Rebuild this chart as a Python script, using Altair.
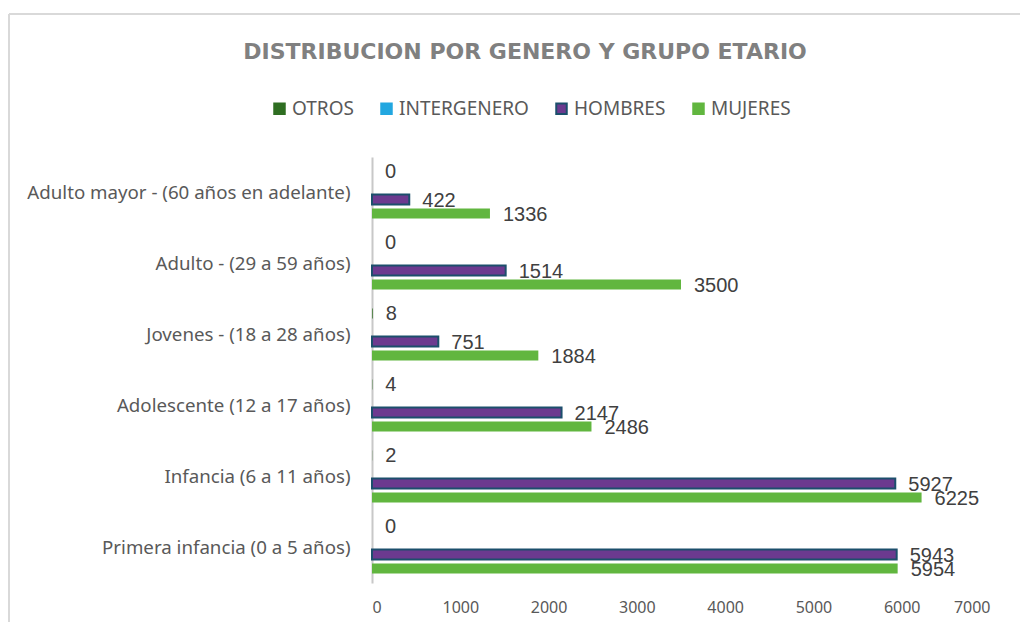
import altair as alt
import pandas as pd

categories = [
    "Adulto mayor - (60 años en adelante)",
    "Adulto - (29 a 59 años)",
    "Jovenes - (18 a 28 años)",
    "Adolescente (12 a 17 años)",
    "Infancia (6 a 11 años)",
    "Primera infancia (0 a 5 años)",
]
series_order = ["OTROS", "INTERGENERO", "HOMBRES", "MUJERES"]
otros = [0, 0, 8, 4, 2, 0]
intergenero = [0, 0, 0, 0, 0, 0]
hombres = [422, 1514, 751, 2147, 5927, 5943]
mujeres = [1336, 3500, 1884, 2486, 6225, 5954]
x_ticks = [0, 1000, 2000, 3000, 4000, 5000, 6000, 7000]

fill_colors = ["#2f6e22", "#22a7e0", "#6c3a8f", "#61b63f"]
stroke_colors = ["#2f6e22", "#22a7e0", "#1c4f6c", "#61b63f"]

rows = []
for name, vals in zip(series_order, [otros, intergenero, hombres, mujeres]):
    for c, v in zip(categories, vals):
        rows.append({"grupo": c, "serie": name, "valor": v})
df = pd.DataFrame(rows)

W, H = 618, 426

y_enc = alt.Y(
    "grupo:N",
    sort=categories,
    title=None,
    scale=alt.Scale(paddingInner=0.21, paddingOuter=0.105),
    axis=alt.Axis(
        labelFont="Noto Sans", labelFontSize=18.7, labelColor="#595959",
        labelPadding=22, ticks=False, domainColor="#c8c8c8", domainWidth=2,
        labelLimit=400,
    ),
)
yoff_enc = alt.YOffset(
    "serie:N", sort=series_order,
    scale=alt.Scale(domain=series_order, paddingInner=0.29, paddingOuter=0.14),
)
x_enc = alt.X(
    "valor:Q",
    title=None,
    scale=alt.Scale(domain=[0, 7000], nice=False),
    axis=alt.Axis(
        values=x_ticks, format="d", grid=False, domain=False, ticks=False,
        labelFont="Noto Sans", labelFontSize=16, labelColor="#595959",
        labelPadding=16,
    ),
)

base = alt.Chart(df)

bars = base.mark_bar().encode(
    y=y_enc,
    yOffset=yoff_enc,
    x=x_enc,
    color=alt.Color(
        "serie:N",
        sort=series_order,
        scale=alt.Scale(domain=series_order, range=fill_colors),
        title=None,
        legend=alt.Legend(
            orient="none", direction="horizontal", legendX=-102, legendY=-58,
            symbolType="square", symbolSize=110, symbolStrokeWidth=2,
            labelFont="Noto Sans", labelFontSize=19, labelColor="#595959",
            columnPadding=23, labelOffset=3,
        ),
    ),
    stroke=alt.Stroke(
        "serie:N",
        sort=series_order,
        scale=alt.Scale(domain=series_order, range=stroke_colors),
        title=None,
    ),
    strokeWidth=alt.condition(
        alt.datum.serie == "HOMBRES", alt.value(2), alt.value(0)
    ),
)

labels = base.transform_filter(
    alt.FieldOneOfPredicate(field="serie", oneOf=["OTROS", "HOMBRES", "MUJERES"])
).mark_text(
    align="left", baseline="middle", dx=13, dy=1,
    font="Liberation Sans", fontSize=20, color="#404040",
).encode(
    y=alt.Y("grupo:N", sort=categories),
    yOffset=alt.YOffset("serie:N", sort=series_order),
    x=alt.X("valor:Q"),
    text=alt.Text("valor:Q", format="d"),
)

frame_data = alt.Data(values=[{"k": 1}])
frame_v = alt.Chart(frame_data).mark_rule(color="#d9d9d9", strokeWidth=2).encode(
    x=alt.value(-363), y=alt.value(-143), y2=alt.value(H + 60)
)
frame_h = alt.Chart(frame_data).mark_rule(color="#d9d9d9", strokeWidth=2).encode(
    x=alt.value(-363), x2=alt.value(W + 60), y=alt.value(-143)
)

chart = alt.layer(frame_v, frame_h, bars, labels).properties(
    width=W,
    height=H,
    autosize=alt.AutoSizeParams(type="none"),
    padding={"left": 364, "top": 149, "right": 30, "bottom": 39},
    title=alt.Title(
        "DISTRIBUCION POR GENERO Y GRUPO ETARIO",
        font="DejaVu Sans", fontSize=22, fontWeight="bold",
        color="#808080", anchor="middle", dx=-156, offset=-51,
    ),
).configure(background="white").configure_view(strokeWidth=0, stroke="transparent")

chart.save("out.html", embed_options={"renderer": "svg", "actions": False})
